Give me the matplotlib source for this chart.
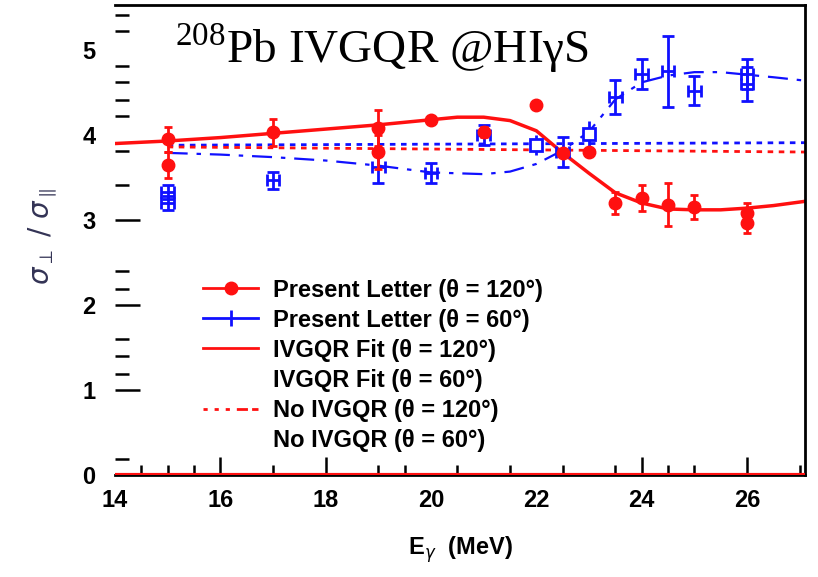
import numpy as np
import matplotlib.pyplot as plt
from matplotlib.lines import Line2D

plt.rcParams['mathtext.fontset'] = 'custom'
plt.rcParams['mathtext.rm'] = 'Liberation Serif'
plt.rcParams['mathtext.it'] = 'DejaVu Sans:italic'

# data
# measured points, theta = 120 deg (red)
e_red = [15, 15, 17, 19, 19, 20, 21, 22, 22.5, 23, 23.5, 24, 24.5, 25, 26, 26]
r_red = [3.95, 3.65, 4.03, 4.08, 3.80, 4.18, 4.04, 4.35, 3.79, 3.80, 3.20, 3.26, 3.18, 3.15, 3.08, 2.97]
err_red = [0.15, 0.15, 0.16, 0.21, 0.2, 0.04, 0.06, 0.0, 0.04, 0.04, 0.13, 0.15, 0.25, 0.14, 0.12, 0.12]

# measured points, theta = 60 deg (blue)
e_blue = [15, 15, 17, 19, 20, 21, 22.5, 23.5, 24, 24.5, 25, 26, 26]
r_blue = [3.33, 3.2, 3.47, 3.62, 3.55, 4.0, 3.8, 4.45, 4.72, 4.75, 4.52, 4.72, 4.6]
err_blue = [0.08, 0.08, 0.1, 0.18, 0.12, 0.12, 0.18, 0.2, 0.18, 0.42, 0.17, 0.18, 0.2]
e_blue_sq = [22, 23]
r_blue_sq = [3.88, 4.01]
err_blue_sq = [0.12, 0.15]

# IVGQR fits
e_fit_red = [14, 15, 16, 17, 18, 19, 20, 20.5, 21, 21.5, 22, 22.5, 23, 23.5, 24, 24.5, 25, 25.5, 26, 26.5, 27.1]
r_fit_red = [3.9, 3.93, 3.97, 4.02, 4.07, 4.12, 4.18, 4.21, 4.21, 4.17, 4.05, 3.79, 3.55, 3.32, 3.2, 3.13, 3.12, 3.12, 3.14, 3.17, 3.22]
e_fit_blue = [15, 16, 17, 18, 19, 20, 21, 21.5, 22, 22.5, 23, 23.5, 24, 24.5, 25, 25.5, 26, 26.5, 27.1]
r_fit_blue = [3.79, 3.77, 3.74, 3.7, 3.64, 3.56, 3.54, 3.57, 3.66, 3.82, 4.04, 4.42, 4.62, 4.7, 4.74, 4.74, 4.71, 4.68, 4.64]

# no IVGQR
e_noiv = [15, 27.1]
r_noiv_red = [3.86, 3.80]
r_noiv_blue = [3.88, 3.91]

labels = ["Present Letter (\u03b8 = 120\u00b0)", "Present Letter (\u03b8 = 60\u00b0)",
          "IVGQR Fit (\u03b8 = 120\u00b0)", "IVGQR Fit (\u03b8 = 60\u00b0)",
          "No IVGQR (\u03b8 = 120\u00b0)", "No IVGQR (\u03b8 = 60\u00b0)"]

RED = '#ff1010'
BLUE = '#1010ff'

fig = plt.figure(figsize=(8.18, 5.77), dpi=100)
ax = fig.add_axes([115/818, 102/577, 690/818, 470/577])

ax.plot(e_noiv, r_noiv_blue, color=BLUE, lw=2, ls=(0, (2, 2)))
ax.plot(e_noiv, r_noiv_red, color=RED, lw=2, ls=(0, (2, 2)))
ax.plot(e_fit_blue, r_fit_blue, color=BLUE, lw=1.6, ls=(0, (9, 4, 2, 4)))
ax.plot(e_fit_red, r_fit_red, color=RED, lw=2.5)

ax.errorbar(e_blue, r_blue, yerr=err_blue, xerr=0.12, fmt='none', ecolor=BLUE,
            elinewidth=2, capsize=4, capthick=2)
ax.errorbar(e_blue_sq, r_blue_sq, yerr=err_blue_sq, fmt='s', mfc='white', mec=BLUE,
            mew=2, ms=9, ecolor=BLUE, elinewidth=2, capsize=0)
ax.errorbar(e_red, r_red, yerr=err_red, fmt='o', color=RED, ms=9,
            elinewidth=2, capsize=3, capthick=2)

ax.axhline(0, color=RED, lw=3, zorder=5)

ax.set_xlim(14, 27.1)
ax.set_ylim(0, 5.53)

# axes frame
ax.spines['left'].set_visible(False)
for s in ['top', 'right', 'bottom']:
    ax.spines[s].set_linewidth(2)

ax.set_xticks([14, 16, 18, 20, 22, 24, 26])
ax.set_xticks([14.5, 15, 15.5, 17, 19, 19.5, 20.5, 21.5, 22.5, 23.5, 24.5, 25, 27], minor=True)
ax.set_yticks([0, 1, 2, 3, 4, 5])
ax.set_yticks([0.19, 1.19, 1.4, 1.6, 2.19, 2.4, 3.41, 3.81, 4.22, 4.41, 4.62, 4.81, 5.22, 5.41], minor=True)
ax.tick_params(axis='x', which='major', direction='in', length=13, width=1.8, pad=10)
ax.tick_params(axis='x', which='minor', direction='in', length=7, width=1.8)
ax.tick_params(axis='y', which='major', direction='in', length=18, width=1.8, pad=14)
ax.tick_params(axis='y', which='minor', direction='in', length=10, width=1.8)
ax.tick_params(top=False, right=False, which='both')
for i, t in enumerate(ax.xaxis.get_major_ticks()):
    if i in (0, 3, 4):
        t.tick1line.set_visible(False)
for i, t in enumerate(ax.yaxis.get_major_ticks()):
    if i in (0, 4, 5):
        t.tick1line.set_visible(False)
for lab in ax.get_xticklabels() + ax.get_yticklabels():
    lab.set_fontfamily('Liberation Sans')
    lab.set_fontweight('bold')
    lab.set_fontsize(17)

ax.set_xlabel(r"E$_{\gamma}$  (MeV)", fontsize=17, fontweight='bold',
              family='Liberation Sans', labelpad=16)
ax.text(-0.104, 0.508, r"$\sigma_{\perp}$ / $\sigma_{\parallel}$", transform=ax.transAxes,
        rotation=90, ha='center', va='center', fontsize=20, color='#333355')

ax.text(0.087, 0.877, r"$^{\mathrm{208}}$Pb IVGQR @HI\u03b3S".replace('\\u03b3', '\u03b3'),
        transform=ax.transAxes, family='Liberation Serif', fontsize=34, va='baseline')

handles = [Line2D([], [], color=RED, lw=2, marker='o', ms=9),
           Line2D([], [], color=BLUE, lw=2, marker='|', ms=12, mew=2),
           Line2D([], [], color=RED, lw=2),
           Line2D([], [], color='none'),
           Line2D([], [], color=RED, lw=2, ls=(0, (1.5, 2.5, 1.5, 2.5, 1.5, 2.5, 4, 1.5, 4, 1.5, 4, 1.5))),
           Line2D([], [], color='none')]
leg = ax.legend(handles, labels, loc='upper left', bbox_to_anchor=(0.1275, 0.418),
                frameon=False, borderpad=0, borderaxespad=0, handlelength=2.35,
                handletextpad=0.6, labelspacing=0.3,
                prop={'family': 'Liberation Sans', 'weight': 'bold', 'size': 17})

fig.savefig('out.png', dpi=100)
